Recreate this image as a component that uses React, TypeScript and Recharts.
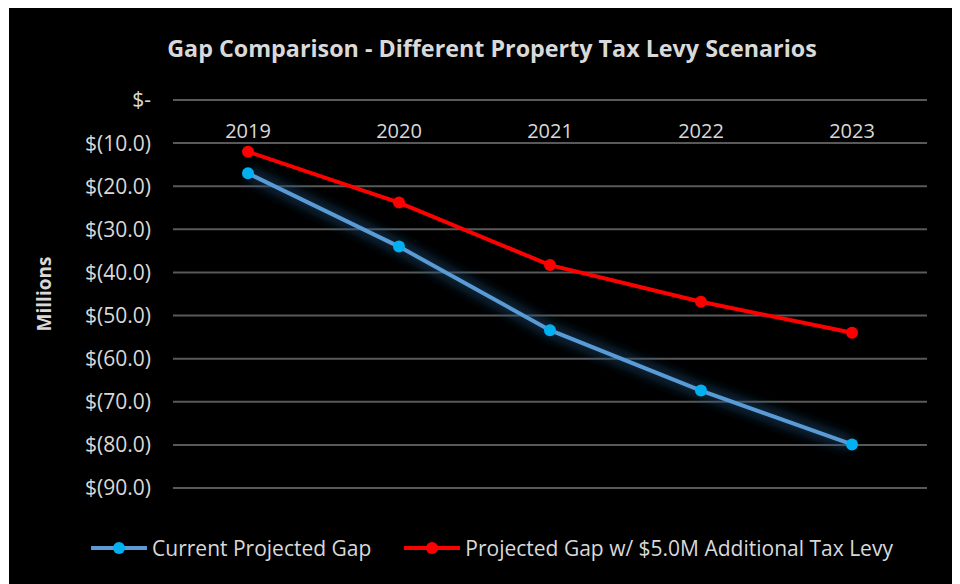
import { LineChart, Line, XAxis, YAxis, CartesianGrid, Legend } from 'recharts';

const years = ['2019', '2020', '2021', '2022', '2023'];
const currentGap = [-17.0, -34.0, -53.4, -67.4, -79.9];
const levyGap = [-12.0, -23.8, -38.3, -46.8, -54.0];
const yTicks = [0, -10, -20, -30, -40, -50, -60, -70, -80, -90];

const FONT = '"Open Sans", Lato, sans-serif';
const TEXT = '#d9d9d9';
const BLUE = '#5b9bd5';
const BLUE_DOT = '#00b0f0';
const RED = '#ff0000';

const data = years.map((year, i) => ({
  year,
  current: currentGap[i],
  glow: currentGap[i],
  levy: levyGap[i],
}));

const fmtMoney = (v: number) => (v === 0 ? '$-' : `$(${Math.abs(v).toFixed(1)})`);

function YearTick({ x, y, payload }: any) {
  return (
    <text x={x} y={y} dy={38} textAnchor="middle" fill={TEXT} fontSize={20} fontFamily={FONT}>
      {payload.value}
    </text>
  );
}

function AxisTitle({ viewBox }: any) {
  const cx = viewBox.x + 35;
  const cy = viewBox.y + viewBox.height / 2;
  return (
    <text
      x={cx} y={cy} transform={`rotate(-90 ${cx} ${cy})`} textAnchor="middle" dominantBaseline="central"
      fill={TEXT} fontSize={19} fontWeight={700} fontFamily={FONT}
    >
      Millions
    </text>
  );
}

const legendItems = [
  { label: 'Current Projected Gap', line: BLUE, dot: BLUE_DOT },
  { label: 'Projected Gap w/ $5.0M Additional Tax Levy', line: RED, dot: RED },
];

function LegendContent() {
  return (
    <div
      style={{
        display: 'flex', justifyContent: 'center', gap: 33, paddingTop: 47, paddingLeft: 48,
        fontFamily: FONT, fontSize: 21, color: TEXT, lineHeight: '26px',
      }}
    >
      {legendItems.map((it) => (
        <div key={it.label} style={{ display: 'flex', alignItems: 'center' }}>
          <svg width={56} height={14} style={{ marginRight: 5 }}>
            <line x1={1} y1={7} x2={55} y2={7} stroke={it.line} strokeWidth={4} strokeLinecap="round" />
            <circle cx={28} cy={7} r={6} fill={it.dot} />
          </svg>
          <span>{it.label}</span>
        </div>
      ))}
    </div>
  );
}

export default function App() {
  return (
    <div style={{ position: 'relative', width: 952, height: 576, marginLeft: 1, background: '#000' }}>
      <div
        style={{
          position: 'absolute', top: 24, left: 0, width: 966, textAlign: 'center',
          color: TEXT, fontFamily: FONT, fontWeight: 700, fontSize: 23.3,
        }}
      >
        Gap Comparison - Different Property Tax Levy Scenarios
      </div>
      <LineChart width={952} height={576} data={data} margin={{ top: 62, right: 34, bottom: 0, left: 0 }}>
        <defs>
          <filter id="glow" x="-20%" y="-20%" width="140%" height="140%">
            <feGaussianBlur stdDeviation="6" />
          </filter>
        </defs>
        <CartesianGrid vertical={false} stroke="#595959" strokeWidth={2} />
        <XAxis
          dataKey="year"
          orientation="top"
          height={30}
          padding={{ left: 75, right: 75 }}
          axisLine={false}
          tickLine={false}
          tickSize={0}
          tickMargin={0}
          tick={<YearTick />}
        />
        <YAxis
          domain={[-90, 0]}
          ticks={yTicks}
          width={164}
          axisLine={false}
          tickLine={false}
          tickSize={0}
          tickMargin={22}
          tickFormatter={fmtMoney}
          tick={{ fill: TEXT, fontSize: 21, fontFamily: FONT }}
          label={<AxisTitle />}
        />
        <Legend verticalAlign="bottom" height={96} content={<LegendContent />} />
        <Line
          dataKey="glow"
          stroke="#1f4e79"
          strokeWidth={12}
          strokeOpacity={0.6}
          dot={false}
          legendType="none"
          filter="url(#glow)"
          isAnimationActive={false}
        />
        <Line
          dataKey="current"
          stroke={BLUE}
          strokeWidth={4}
          dot={{ r: 6, fill: BLUE_DOT, stroke: BLUE_DOT, strokeWidth: 0 }}
          isAnimationActive={false}
        />
        <Line
          dataKey="levy"
          stroke={RED}
          strokeWidth={4}
          dot={{ r: 6, fill: RED, stroke: RED, strokeWidth: 0 }}
          isAnimationActive={false}
        />
      </LineChart>
    </div>
  );
}
